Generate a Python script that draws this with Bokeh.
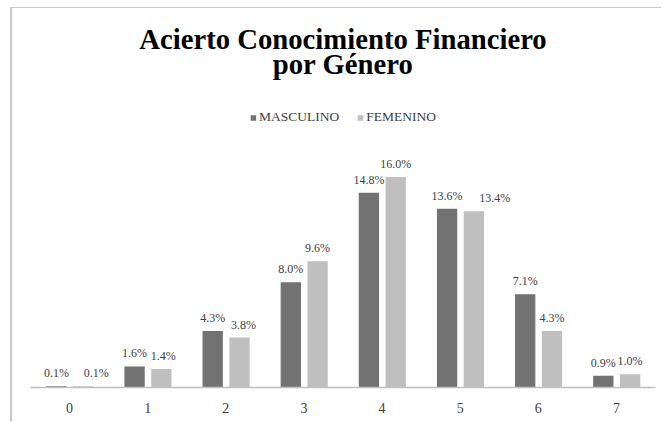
from bokeh.plotting import figure
from bokeh.models import ColumnDataSource, FactorRange, Range1d, Legend, Label
from bokeh.transform import dodge
from bokeh.core.properties import value
from bokeh.embed import file_html
from bokeh.resources import INLINE

categories = ["0", "1", "2", "3", "4", "5", "6", "7"]
masculino = [0.1, 1.6, 4.3, 8.0, 14.8, 13.6, 7.1, 0.9]
femenino = [0.1, 1.4, 3.8, 9.6, 16.0, 13.4, 4.3, 1.0]
series_names = ["MASCULINO", "FEMENINO"]
title_lines = ["Acierto Conocimiento Financiero", "por Género"]

# label nudges (pixels) used by the original to avoid overlaps
fem_label_dx = [13, 2, 4, 0, 0, 21, 0, 0]

SERIF = "Liberation Serif"
C_MASC = "#727272"
C_FEM = "#bfbfbf"

src = ColumnDataSource(dict(
    cat=categories,
    masc=masculino,
    fem=femenino,
    masc_lbl=[f"{v:.1f}%" for v in masculino],
    fem_lbl=[f"{v:.1f}%" for v in femenino],
    fem_dx=fem_label_dx,
))

Y_TOP = 28.82
PX = 13.15  # pixels per percentage point
p = figure(
    x_range=FactorRange(*categories, range_padding=0),
    y_range=Range1d(0, Y_TOP),
    width=651, height=414,
    output_backend="svg", toolbar_location=None,
    min_border_left=18, min_border_right=8, min_border_top=0, min_border_bottom=35,
)
p.styles = {"border-top": "1px solid #c8c8c8", "border-left": "2px solid #c8c8c8",
            "margin-left": "10px", "margin-top": "7px"}
p.title = None

# two centred title lines, placed in the empty space above the bars
for txt, dy in zip(title_lines, [30, 55]):
    p.add_layout(Label(x=4.0, y=Y_TOP - dy / PX, text=txt, text_align="center",
                       text_baseline="alphabetic",
                       text_font=SERIF, text_font_size="28.7px", text_font_style="bold",
                       text_color="#000000"))

r1 = p.vbar(x=dodge("cat", -0.168, range=p.x_range), top="masc", width=0.26, source=src,
            fill_color=C_MASC, line_color=None)
r2 = p.vbar(x=dodge("cat", 0.175, range=p.x_range), top="fem", width=0.26, source=src,
            fill_color=C_FEM, line_color=None)

p.text(x=dodge("cat", -0.168, range=p.x_range), y="masc", text="masc_lbl", source=src,
       text_font=value(SERIF), text_font_size="12px", text_color="#404040",
       text_align="center", text_baseline="bottom", y_offset=-6)
p.text(x=dodge("cat", 0.175, range=p.x_range), y="fem", text="fem_lbl", source=src,
       x_offset="fem_dx",
       text_font=value(SERIF), text_font_size="12px", text_color="#404040",
       text_align="center", text_baseline="bottom", y_offset=-6)

legend = Legend(items=[(series_names[0], [r1]), (series_names[1], [r2])],
                orientation="horizontal", location="top_center",
                glyph_width=7, glyph_height=7, label_standoff=3, spacing=17,
                label_text_font=SERIF, label_text_font_size="13.5px", label_text_color="#404040",
                label_height=12, padding=5, margin=101,
                border_line_color=None, background_fill_alpha=0)
p.add_layout(legend, "center")

p.yaxis.visible = False
p.xgrid.visible = False
p.ygrid.visible = False
p.outline_line_color = None

ax = p.xaxis[0]
ax.axis_line_color = "#c0c0c0"
ax.axis_line_width = 1.5
ax.major_tick_line_color = None
ax.minor_tick_line_color = None
ax.major_label_standoff = 9
ax.major_label_text_font = SERIF
ax.major_label_text_font_size = "14px"
ax.major_label_text_color = "#404040"

open("out.html", "w").write(file_html(p, INLINE))
